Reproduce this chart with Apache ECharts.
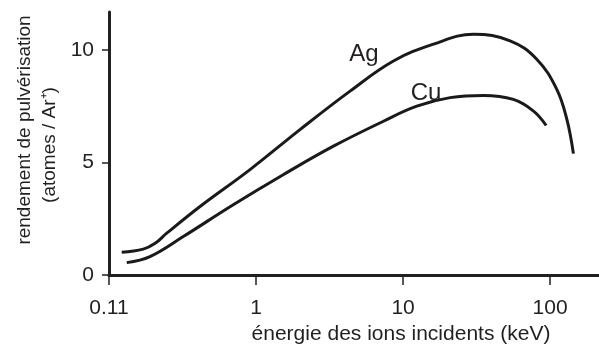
<!DOCTYPE html>
<html>
<head>
<meta charset="utf-8">
<script src="https://cdn.jsdelivr.net/npm/echarts@6/dist/echarts.min.js"></script>
<style>
html,body{margin:0;padding:0;background:#fff;}
#chart{width:599px;height:352px;}
</style>
</head>
<body>
<div id="chart"></div>
<script>
// Sputtering yield vs. Ar+ ion energy
const agEnergy = [0.122, 0.171, 0.206, 0.247, 0.416, 0.91, 1.99, 4.36, 8.6, 16.1, 30.1, 53.4, 81.1, 111, 130, 144];
const agYield  = [1.01, 1.15, 1.41, 1.86, 3.05, 4.69, 6.47, 8.18, 9.52, 10.27, 10.71, 10.42, 9.6, 8.26, 6.92, 5.40];
const cuEnergy = [0.132, 0.19, 0.32, 0.70, 1.53, 3.36, 7.35, 12.4, 20.9, 35.2, 56.2, 77.1, 94];
const cuYield  = [0.55, 0.82, 1.71, 3.125, 4.46, 5.73, 6.84, 7.51, 7.89, 7.99, 7.81, 7.29, 6.65];
const xTicks = [0.1, 1, 10, 100];
const xTickLabels = ['0.11', '1', '10', '100'];
const yTicks = [0, 5, 10];

const pairs = (xs, ys) => xs.map((x, i) => [x, ys[i]]);
const ink = '#231f20';
const font = 'Liberation Sans, Arial, sans-serif';

const chart = echarts.init(document.getElementById('chart'));
chart.setOption({
  animation: false,
  grid: { left: 109, top: 12, right: 0, bottom: 77 },
  xAxis: {
    type: 'log',
    min: 0.1,
    max: 215,
    axisLine: { lineStyle: { color: ink, width: 3 } },
    axisTick: { customValues: xTicks, length: 10, lineStyle: { color: ink, width: 1.5 } },
    axisLabel: {
      customValues: xTicks,
      formatter: v => xTickLabels[xTicks.findIndex(t => Math.abs(t - v) / t < 1e-6)] || '',
      color: ink, fontSize: 21, fontFamily: font, margin: 23
    },
    splitLine: { show: false },
    minorTick: { show: false }
  },
  yAxis: {
    type: 'value',
    min: 0,
    max: 11.7,
    axisLine: { show: true, lineStyle: { color: ink, width: 3 } },
    axisTick: { show: true, customValues: yTicks, length: 7, lineStyle: { color: ink, width: 1.5 } },
    axisLabel: { customValues: yTicks, color: ink, fontSize: 21, fontFamily: font, margin: 15 },
    splitLine: { show: false }
  },
  series: [
    {
      name: 'Ag', type: 'line', smooth: 0.4, showSymbol: false,
      lineStyle: { color: '#1a1a1a', width: 3 },
      data: pairs(agEnergy, agYield)
    },
    {
      name: 'Cu', type: 'line', smooth: 0.4, showSymbol: false,
      lineStyle: { color: '#1a1a1a', width: 3 },
      data: pairs(cuEnergy, cuYield)
    }
  ],
  graphic: [
    { type: 'text', x: 364, y: 54, style: { text: 'Ag', font: '24px ' + font, fill: ink, align: 'center', verticalAlign: 'middle' } },
    { type: 'text', x: 426, y: 93, style: { text: 'Cu', font: '24px ' + font, fill: ink, align: 'center', verticalAlign: 'middle' } },
    { type: 'text', x: 401, y: 334, style: { text: 'énergie des ions incidents (keV)', font: '21px ' + font, fill: ink, align: 'center', verticalAlign: 'middle' } },
    { type: 'text', x: 25, y: 130, rotation: Math.PI / 2, style: { text: 'rendement de pulvérisation', font: '19px ' + font, fill: ink, align: 'center', verticalAlign: 'middle' } },
    { type: 'text', x: 50, y: 145, rotation: Math.PI / 2, style: { text: '(atomes / Ar\u207A)', font: '19px ' + font, fill: ink, align: 'center', verticalAlign: 'middle' } }
  ]
});
</script>
</body>
</html>
